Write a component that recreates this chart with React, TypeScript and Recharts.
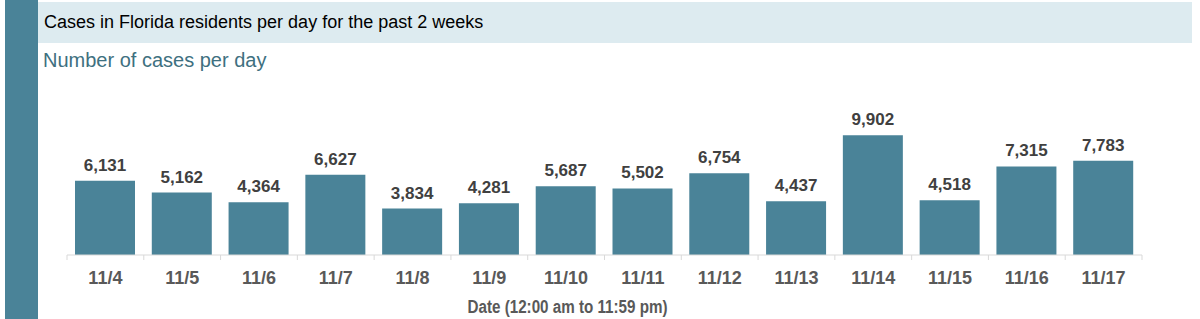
import { BarChart, Bar, XAxis, YAxis, LabelList, Label } from "recharts";

const DATES = ["11/4", "11/5", "11/6", "11/7", "11/8", "11/9", "11/10", "11/11", "11/12", "11/13", "11/14", "11/15", "11/16", "11/17"];
const CASES = [6131, 5162, 4364, 6627, 3834, 4281, 5687, 5502, 6754, 4437, 9902, 4518, 7315, 7783];

const TEAL = "#4a8398";
const W = 1200;
const H = 319;
const MARGIN = { top: 134, right: 58, bottom: 0, left: 67 };
const STEP = (W - MARGIN.left - MARGIN.right) / DATES.length;
const FONT = "'Liberation Sans', Arial, sans-serif";

const data = DATES.map((d, i) => ({ date: d, cases: CASES[i] }));

// tick marks sit on the category boundaries, labels in the middle
const DateTick = ({ x, y, payload, index }: any) => (
  <g>
    <line x1={x - STEP / 2} x2={x - STEP / 2} y1={y} y2={y + 5} stroke="#d9d9d9" />
    {index === DATES.length - 1 && (
      <line x1={x + STEP / 2} x2={x + STEP / 2} y1={y} y2={y + 5} stroke="#d9d9d9" />
    )}
    <text x={x} y={y + 29} textAnchor="middle" fill="#595959" fontSize={18} fontWeight="bold" fontFamily={FONT}>
      {payload.value}
    </text>
  </g>
);

// condensed axis title (no narrow font available, so squeeze it)
const AxisTitle = ({ viewBox }: any) => {
  const cx = viewBox.x + viewBox.width / 2 - 37;
  return (
    <text x={cx - 100} y={viewBox.y + viewBox.height - 6} textLength={200} lengthAdjust="spacingAndGlyphs"
      fill="#595959" fontSize={18} fontWeight="bold" fontFamily={FONT}>
      Date (12:00 am to 11:59 pm)
    </text>
  );
};

export default function App() {
  return (
    <div style={{ position: "relative", width: W, height: H, background: "#fff", fontFamily: FONT }}>
      <style>{`body{margin:0}`}</style>
      <div style={{ position: "absolute", left: 5, top: 0, width: 33, height: H, background: TEAL }} />
      <div style={{ position: "absolute", left: 38, top: 2, width: 1154, height: 41, background: "#ddebf0" }}>
        <div style={{ position: "absolute", left: 6, top: 10, fontSize: 18, lineHeight: "20px", color: "#000" }}>
          Cases in Florida residents per day for the past 2 weeks
        </div>
      </div>
      <div style={{ position: "absolute", left: 43, top: 48, fontSize: 20, lineHeight: "24px", color: "#3e7080" }}>
        Number of cases per day
      </div>
      <div style={{ position: "absolute", left: 0, top: 0 }}>
        <BarChart width={W} height={H} data={data} margin={MARGIN}>
          <YAxis hide domain={[0, 10000]} />
          <XAxis dataKey="date" height={64} tickSize={0} tickMargin={0} tickLine={false}
            axisLine={{ stroke: "#d9d9d9" }} tick={<DateTick />} interval={0}>
            <Label content={<AxisTitle />} />
          </XAxis>
          <Bar dataKey="cases" fill={TEAL} barSize={60} isAnimationActive={false}>
            <LabelList dataKey="cases" position="top" offset={10} fill="#404040" fontSize={17} fontWeight="bold"
              fontFamily={FONT} formatter={(v: any) => Number(v).toLocaleString("en-US")} />
          </Bar>
        </BarChart>
      </div>
    </div>
  );
}
